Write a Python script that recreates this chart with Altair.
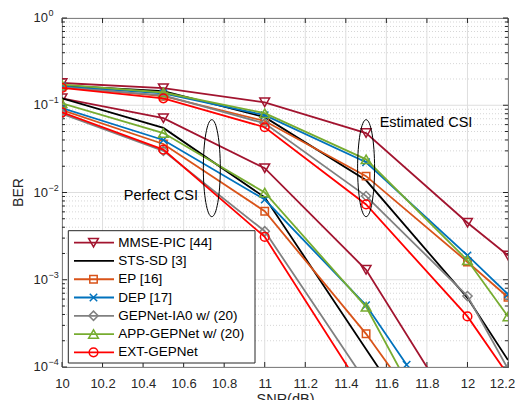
import altair as alt
import pandas as pd

# ---------------- data ----------------
names = ["MMSE-PIC [44]", "STS-SD [3]", "EP [16]", "DEP [17]",
         "GEPNet-IA0 w/ (20)", "APP-GEPNet w/ (20)", "EXT-GEPNet"]
colors = ["#A2142F", "#000000", "#D95319", "#0072BD", "#808080", "#77AC30", "#FF0000"]

snr_est = [10, 10.5, 11, 11.5, 12, 12.2]
snr_perf = [10, 10.5, 11, 11.5, 12]
snr_perf_dep = [10, 10.5, 11, 11.5, 11.7]

# Estimated CSI
mmse_est = [0.18, 0.157, 0.108, 0.048, 0.0045, 0.0019]
sts_est = [0.168, 0.145, 0.073, 0.0138, 0.00062, 0.00012]
ep_est = [0.162, 0.127, 0.066, 0.0154, 0.0016, 0.00063]
dep_est = [0.165, 0.137, 0.077, 0.0222, 0.0019, 0.00068]
gep_est = [0.16, 0.13, 0.062, 0.0091, 0.00065, 0.000095]
app_est = [0.172, 0.14, 0.081, 0.024, 0.00167, 0.00038]
ext_est = [0.158, 0.12, 0.056, 0.0073, 0.00038, 0.000081]

# Perfect CSI
mmse_perf = [0.12, 0.071, 0.019, 0.0013, 0.000018]
sts_perf = [0.12, 0.055, 0.0088, 0.00016, 0.0000029]
ep_perf = [0.088, 0.036, 0.0061, 0.00024, 0.0000058]
dep_perf = [0.093, 0.040, 0.0083, 0.00051, 0.000106]
gep_perf = [0.08, 0.030, 0.0036, 0.000067, 0.000001]
app_perf = [0.105, 0.048, 0.010, 0.00049, 0.0000035]
ext_perf = [0.083, 0.031, 0.0031, 0.000047, 0.0000008]

est_vals = [mmse_est, sts_est, ep_est, dep_est, gep_est, app_est, ext_est]
perf_vals = [mmse_perf, sts_perf, ep_perf, dep_perf, gep_perf, app_perf, ext_perf]
perf_x = [snr_perf, snr_perf, snr_perf, snr_perf_dep, snr_perf, snr_perf, snr_perf]

x_ticks = [10, 10.2, 10.4, 10.6, 10.8, 11, 11.2, 11.4, 11.6, 11.8, 12, 12.2]
y_major = [1e-4, 1e-3, 1e-2, 1e-1, 1]
y_exp = ["\u22124", "\u22123", "\u22122", "\u22121", "0"]
y_minor = [k * 10.0 ** e for e in [-4, -3, -2, -1] for k in range(2, 10)]

ann_text = ["Perfect CSI", "Estimated CSI"]
ann_x = [10.305, 11.567]
ann_y = [0.0092, 0.0627]
ell_x = [10.739, 11.5]
ell_y = [0.019, 0.019]

# ---------------- styling ----------------
FONT = "Liberation Sans"
W, H = 446, 349
XPATH = "M-1,-1L1,1M-1,1L1,-1"
ELL = ("M0,-1 C0.0966,-1 0.175,-0.5523 0.175,0 C0.175,0.5523 0.0966,1 0,1 "
       "C-0.0966,1 -0.175,0.5523 -0.175,0 C-0.175,-0.5523 -0.0966,-1 0,-1 Z")
shapes = ["triangle-down", None, "square", XPATH, "diamond", "triangle-up", "circle"]
sizes = [95, 0, 55, 55, 85, 95, 75]

xs = alt.Scale(domain=[10, 12.2], nice=False, zero=False)
ys = alt.Scale(type="log", domain=[1e-4, 1], nice=False)
xaxis = alt.Axis(values=x_ticks, format="~g", ticks=False, tickSize=0, domain=False,
                 grid=False, labelFont=FONT, labelFontSize=13, labelColor="#262626",
                 labelPadding=10, labelFlush=False, labelOverlap=False, labelBound=False,
                 labelOffset={"condition": {"test": "datum.value > 12.1", "value": -6}, "value": 0},
                 title="SNR(dB)", titleFont=FONT, titleFontSize=14.5,
                 titleFontWeight="normal", titleColor="#262626", titlePadding=2)


def X(f):
    return alt.X(f, type="quantitative", scale=xs, axis=xaxis)


def Y(f):
    return alt.Y(f, type="quantitative", scale=ys, axis=None)


layers = []

# grid
df_minor = pd.DataFrame({"v": y_minor})
df_major = pd.DataFrame({"v": y_major, "e": y_exp})
df_xt = pd.DataFrame({"gx": x_ticks})
layers.append(alt.Chart(df_minor).mark_rule(color="#cccccc", strokeWidth=0.8, strokeDash=[1, 2])
              .encode(y=Y("v")))
layers.append(alt.Chart(df_major).mark_rule(color="#dedede", strokeWidth=1).encode(y=Y("v")))
layers.append(alt.Chart(df_xt).mark_rule(color="#dedede", strokeWidth=1).encode(x=X("gx")))

# ticks (inside)
tk = dict(color="#262626", strokeWidth=1)
layers.append(alt.Chart(df_xt).mark_rule(**tk).encode(x=X("gx"), y=alt.value(H), y2=alt.value(H - 5)))
layers.append(alt.Chart(df_xt).mark_rule(**tk).encode(x=X("gx"), y=alt.value(0), y2=alt.value(5)))
layers.append(alt.Chart(df_major).mark_rule(**tk).encode(y=Y("v"), x=alt.value(0), x2=alt.value(5)))
layers.append(alt.Chart(df_major).mark_rule(**tk).encode(y=Y("v"), x=alt.value(W), x2=alt.value(W - 5)))
layers.append(alt.Chart(df_minor).mark_rule(**tk).encode(y=Y("v"), x=alt.value(0), x2=alt.value(3)))
layers.append(alt.Chart(df_minor).mark_rule(**tk).encode(y=Y("v"), x=alt.value(W), x2=alt.value(W - 3)))

# series
for i, name in enumerate(names):
    rows = []
    for s, b in zip(snr_est, est_vals[i]):
        rows.append({"snr": s, "ber": b, "csi": "est"})
    for s, b in zip(perf_x[i], perf_vals[i]):
        rows.append({"snr": s, "ber": b, "csi": "perf"})
    d = pd.DataFrame(rows)
    layers.append(alt.Chart(d).mark_line(color=colors[i], strokeWidth=1.8, clip=True)
                  .encode(x=X("snr"), y=Y("ber"), detail="csi:N"))
    if shapes[i] is not None:
        layers.append(alt.Chart(d).mark_point(color=colors[i], shape=shapes[i], size=sizes[i],
                                              filled=False, strokeWidth=1.5, clip=True, opacity=1)
                      .encode(x=X("snr"), y=Y("ber")))

# annotations
df_ann = pd.DataFrame({"t": ann_text, "x": ann_x, "y": ann_y})
df_ell = pd.DataFrame({"x": ell_x, "y": ell_y})
layers.append(alt.Chart(df_ell).mark_point(shape=ELL, size=9409, filled=False, color="black",
                                           strokeWidth=1, opacity=1)
              .encode(x=X("x"), y=Y("y")))
layers.append(alt.Chart(df_ann).mark_text(font=FONT, fontSize=14.5, align="left", baseline="middle",
                                          color="#000000")
              .encode(x=X("x"), y=Y("y"), text="t:N"))

# legend (MATLAB-style box)
LX0, LX1, LY0, LY1 = 6.3, 193, 212.7, 345
layers.append(alt.Chart(pd.DataFrame({"a": [0]})).mark_rect(fill="white", stroke="#262626", strokeWidth=1)
              .encode(x=alt.value(LX0), x2=alt.value(LX1), y=alt.value(LY0), y2=alt.value(LY1)))
for i, name in enumerate(names):
    ly = 224.7 + i * 18.27
    dd = pd.DataFrame({"name": [name]})
    layers.append(alt.Chart(dd).mark_rule(color=colors[i], strokeWidth=1.8)
                  .encode(x=alt.value(12), x2=alt.value(52), y=alt.value(ly)))
    if shapes[i] is not None:
        layers.append(alt.Chart(dd).mark_point(color=colors[i], shape=shapes[i], size=sizes[i],
                                               filled=False, strokeWidth=1.5, opacity=1)
                      .encode(x=alt.value(31.5), y=alt.value(ly)))
    layers.append(alt.Chart(dd).mark_text(font=FONT, fontSize=13.5, align="left", baseline="middle",
                                          color="#000000")
                  .encode(x=alt.value(56.3), y=alt.value(ly), text="name:N"))

# y tick labels (10 with superscript exponent)
layers.append(alt.Chart(df_major).mark_text(font=FONT, fontSize=13, align="right", baseline="middle",
                                            color="#262626")
              .encode(y=Y("v"), x=alt.value(-14), text=alt.value("10")))
layers.append(alt.Chart(df_major).mark_text(font=FONT, fontSize=9, align="left", baseline="middle",
                                            color="#262626", dy=-5)
              .encode(y=Y("v"), x=alt.value(-13.5), text="e:N"))
# y title
layers.append(alt.Chart(pd.DataFrame({"a": [0]})).mark_text(font=FONT, fontSize=14, angle=270,
                                                            align="center", baseline="middle",
                                                            color="#262626")
              .encode(x=alt.value(-43), y=alt.value(H / 2), text=alt.value("BER")))

chart = alt.layer(*layers).properties(
    width=W, height=H,
    autosize=alt.AutoSizeParams(type="none"),
    padding={"left": 54, "top": 10, "right": 7, "bottom": 33},
    background="white",
).configure_view(stroke="#262626", strokeWidth=1)

chart.save("out.html", embed_options={"renderer": "svg", "actions": False})
